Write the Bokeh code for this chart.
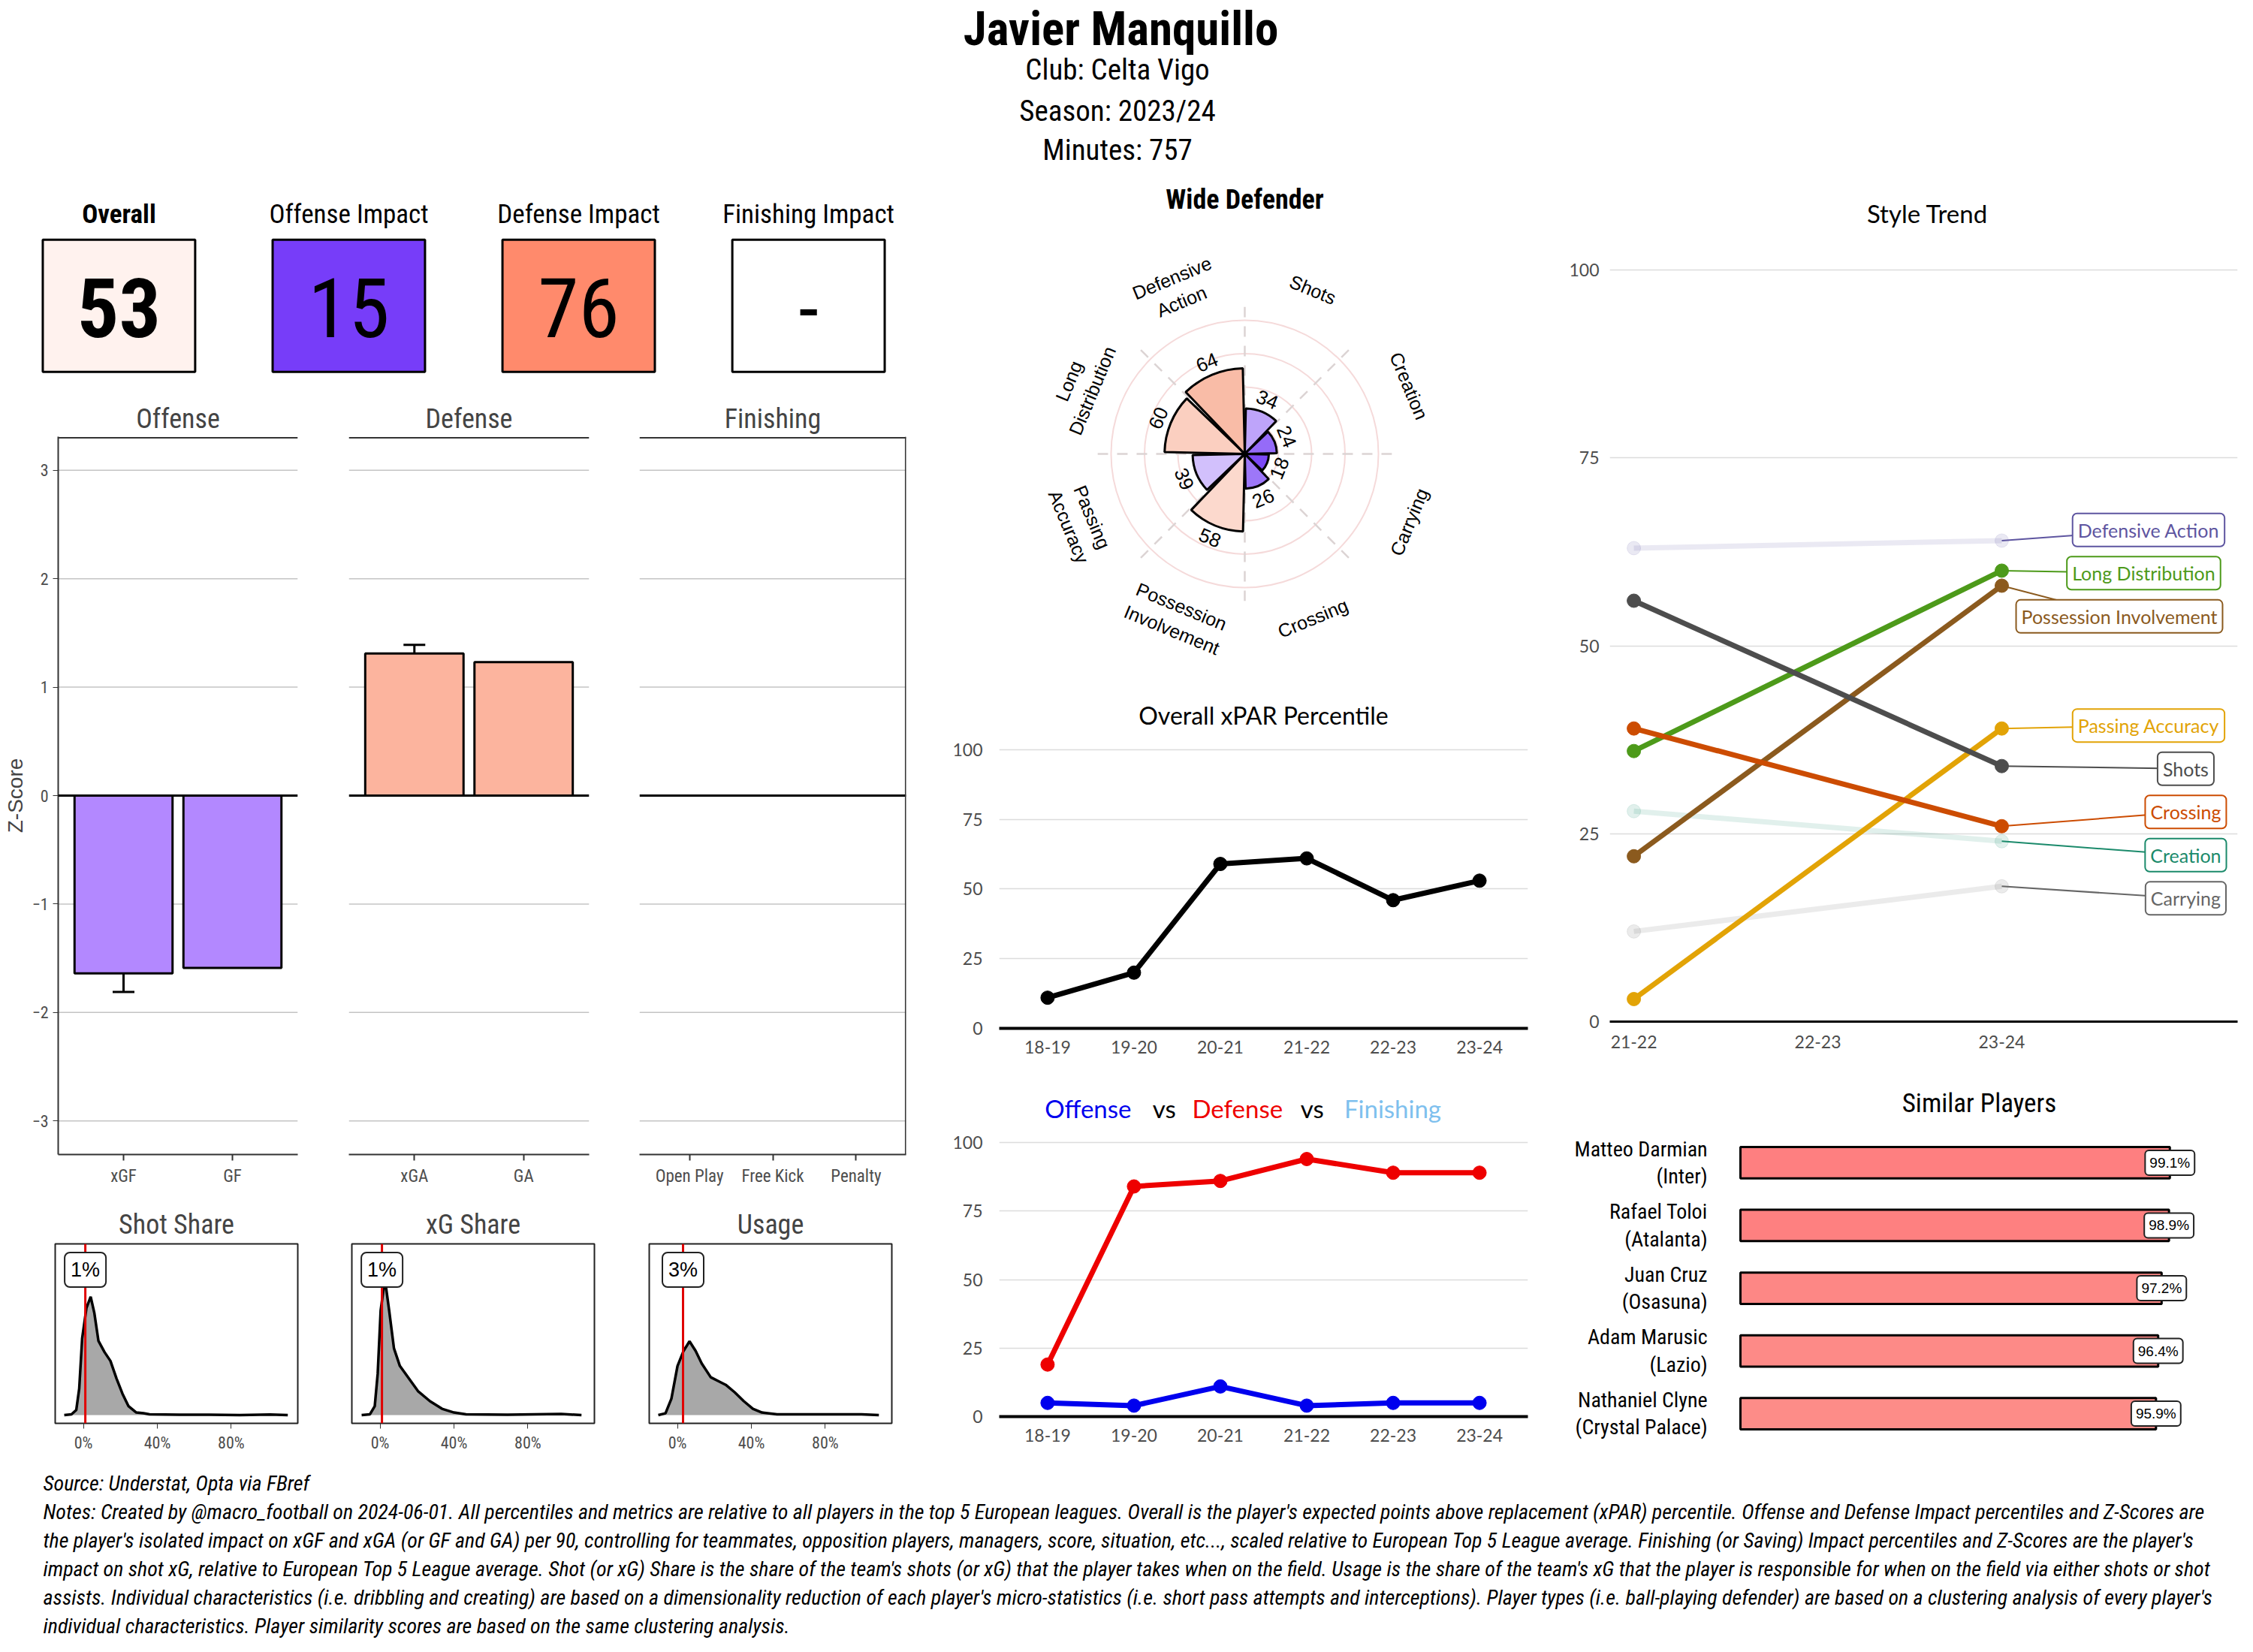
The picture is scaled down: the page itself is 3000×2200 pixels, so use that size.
import math
from bokeh.plotting import figure
from bokeh.layouts import row, column
from bokeh.models import Range1d, FactorRange, FixedTicker, Span, Whisker, TeeHead, ColumnDataSource, NumeralTickFormatter
from bokeh.core.properties import value
from bokeh.embed import file_html
from bokeh.resources import INLINE

# ---------------- data ----------------
player_name = "Javier Manquillo"
club_name = "Celta Vigo"
season_label = "2023/24"
minutes_played = 757

kpi_labels = ["Overall", "Offense Impact", "Defense Impact", "Finishing Impact"]
kpi_values = [53, 15, 76, None]

offense_cats = ["xGF", "GF"]
offense_z = [-1.64, -1.59]
offense_err_cat = ["xGF"]
offense_err_low = [-1.81]
offense_err_high = [-1.47]

defense_cats = ["xGA", "GA"]
defense_z = [1.31, 1.23]
defense_err_cat = ["xGA"]
defense_err_low = [1.24]
defense_err_high = [1.39]

finishing_cats = ["Open Play", "Free Kick", "Penalty"]
finishing_z = [0.0, 0.0, 0.0]

z_ticks = [-3, -2, -1, 0, 1, 2, 3]

share_ticks = [0.0, 0.4, 0.8]
shot_share_x = [-0.104, -0.065, -0.039, -0.023, -0.007, 0.016, 0.039, 0.059, 0.081, 0.114,
                0.146, 0.179, 0.211, 0.244, 0.286, 0.325, 0.358, 0.52, 0.68, 0.846, 1.01, 1.106]
shot_share_y = [0.0, 0.03, 0.2, 1.05, 3.05, 4.25, 4.7, 4.05, 2.95, 2.5,
                2.15, 1.45, 0.85, 0.35, 0.1, 0.07, 0.03, 0.01, 0.01, 0.0, 0.02, 0.0]
xg_share_x = [-0.10, -0.055, -0.029, -0.013, 0.003, 0.026, 0.049, 0.075, 0.107, 0.156,
              0.205, 0.27, 0.335, 0.40, 0.465, 0.69, 0.98, 1.09]
xg_share_y = [0.0, 0.03, 0.35, 1.65, 4.15, 5.4, 4.15, 2.65, 1.95, 1.45,
              0.95, 0.55, 0.25, 0.1, 0.03, 0.01, 0.04, 0.0]
usage_x = [-0.104, -0.065, -0.033, 0.0, 0.033, 0.065, 0.098, 0.131, 0.18, 0.229,
           0.261, 0.31, 0.359, 0.408, 0.457, 0.539, 0.70, 0.996, 1.09]
usage_y = [0.0, 0.07, 0.65, 1.95, 2.55, 2.93, 2.55, 2.05, 1.5, 1.32,
           1.2, 0.9, 0.55, 0.25, 0.1, 0.03, 0.03, 0.03, 0.0]
player_shot_share = 0.01
player_xg_share = 0.01
player_usage = 0.03

radar_cats = ["Shots", "Creation", "Carrying", "Crossing", "Possession\nInvolvement",
              "Passing\nAccuracy", "Long\nDistribution", "Defensive\nAction"]
radar_vals = [34, 24, 18, 26, 58, 39, 60, 64]
radar_rings = [25, 50, 75, 100]

seasons = ["18-19", "19-20", "20-21", "21-22", "22-23", "23-24"]
xpar_pct = [11, 20, 59, 61, 46, 53]
offense_pct = [5, 4, 11, 4, 5, 5]
defense_pct = [19, 84, 86, 94, 89, 89]
pct_ticks = [0, 25, 50, 75, 100]

trend_seasons = ["21-22", "22-23", "23-24"]
trend_names = ["Defensive Action", "Long Distribution", "Possession Involvement", "Passing Accuracy",
               "Shots", "Crossing", "Creation", "Carrying"]
trend_2122 = [63, 36, 22, 3, 56, 39, 28, 12]
trend_2324 = [64, 60, 58, 39, 34, 26, 24, 18]
trend_colors = ["#5e55a0", "#4d9a1a", "#8b5a1e", "#e2a306", "#4d4d4d", "#cc4c02", "#1b8a6b", "#666666"]

similar_names = ["Matteo Darmian", "Rafael Toloi", "Juan Cruz", "Adam Marusic", "Nathaniel Clyne"]
similar_clubs = ["Inter", "Atalanta", "Osasuna", "Lazio", "Crystal Palace"]
similar_pct = [99.1, 98.9, 97.2, 96.4, 95.9]

source_note = "Source: Understat, Opta via FBref"
notes_lines = [
    "Notes: Created by @macro_football on 2024-06-01. All percentiles and metrics are relative to all players in the top 5 European leagues. Overall is the player's expected points above replacement (xPAR) percentile. Offense and Defense Impact percentiles and Z-Scores are",
    "the player's isolated impact on xGF and xGA (or GF and GA) per 90, controlling for teammates, opposition players, managers, score, situation, etc..., scaled relative to European Top 5 League average. Finishing (or Saving) Impact percentiles and Z-Scores are the player's",
    "impact on shot xG, relative to European Top 5 League average. Shot (or xG) Share is the share of the team's shots (or xG) that the player takes when on the field. Usage is the share of the team's xG that the player is responsible for when on the field via either shots or shot",
    "assists. Individual characteristics (i.e. dribbling and creating) are based on a dimensionality reduction of each player's micro-statistics (i.e. short pass attempts and interceptions). Player types (i.e. ball-playing defender) are based on a clustering analysis of every player's",
    "individual characteristics. Player similarity scores are based on the same clustering analysis.",
]

# ---------------- style ----------------
COND = "'Roboto Condensed', 'Liberation Sans Narrow', 'DejaVu Sans Condensed', Roboto"
GEO = "Lato"
ARIAL = "'Liberation Sans', Arial"
GREY = "#4d4d4d"


def hex2rgb(h):
    h = h.lstrip("#")
    return tuple(int(h[i:i + 2], 16) for i in (0, 2, 4))


def mix(c1, c2, t):
    a, b = hex2rgb(c1), hex2rgb(c2)
    r = [max(0, min(255, round(a[i] + (b[i] - a[i]) * t))) for i in range(3)]
    return "#%02x%02x%02x" % tuple(r)


def div_color(v, lo="#773df9", hi="#ff8a6c"):
    if v <= 50:
        return mix("#ffffff", lo, min(1.15, (50 - v) / 35.0))
    return mix("#ffffff", hi, min(1.3, (v - 50) / 26.0))


def blank(w, h, xr, yr):
    p = figure(width=w, height=h, x_range=xr, y_range=yr, output_backend="svg", toolbar_location=None,
               x_axis_location=None, y_axis_location=None, min_border=0)
    p.grid.visible = False
    p.outline_line_color = None
    return p


# ---------------- header ----------------
HH = 235
hdr = blank(2984, HH, Range1d(0, 2984), Range1d(0, HH))
hdr.text(x=[1492], y=[HH - 38], text=[player_name], text_font=value(COND), text_font_size="63px",
         text_font_style="bold", text_align="center", text_baseline="middle")
hdr.text(x=[1492] * 3, y=[HH - 92, HH - 147, HH - 199],
         text=[f"Club:  {club_name}", f"Season:  {season_label}", f"Minutes:  {minutes_played}"],
         text_font=value(COND), text_font_size="39px", text_align="center", text_baseline="middle")

# ---------------- KPI boxes ----------------
kpi = blank(1234, 277, FactorRange(*kpi_labels, range_padding=0.016, range_padding_units="absolute"),
            Range1d(0, 1))
kpi_fill = [div_color(v) if v is not None else "#ffffff" for v in kpi_values]
kpi_text = [str(v) if v is not None else "-" for v in kpi_values]
kpi.rect(x=kpi_labels, y=0.38, width=0.663, height=0.635, fill_color=kpi_fill,
         line_color="black", line_width=3)
kpi.text(x=kpi_labels[:1], y=0.82, text=kpi_labels[:1], text_font=value(COND), text_font_size="35px",
         text_font_style="bold", text_align="center", text_baseline="middle")
kpi.text(x=kpi_labels[1:], y=0.82, text=kpi_labels[1:], text_font=value(COND), text_font_size="35px",
         text_align="center", text_baseline="middle")
kpi.text(x=kpi_labels[:1], y=0.37, text=kpi_text[:1], text_font=value(COND), text_font_size="110px",
         text_font_style="bold", text_align="center", text_baseline="middle")
kpi.text(x=kpi_labels[1:], y=0.37, text=kpi_text[1:], text_font=value(COND), text_font_size="110px",
         text_align="center", text_baseline="middle")


# ---------------- Z-score facets ----------------
def zpanel(title, cats, vals, fill, width, bl, br, show_y, right_line, err=None):
    p = figure(width=width, height=1071,
               x_range=FactorRange(*cats, range_padding=0.1, range_padding_units="absolute"),
               y_range=Range1d(-3.31, 3.31), output_backend="svg", toolbar_location=None,
               min_border_left=bl, min_border_right=br, min_border_top=69, min_border_bottom=46,
               title=title, y_axis_location="left" if show_y else None)
    p.title.align = "center"
    p.title.text_font = COND
    p.title.text_font_size = "36px"
    p.title.text_font_style = "normal"
    p.title.standoff = 6
    p.grid.visible = False
    p.outline_line_color = None
    for t in z_ticks:
        if t != 0:
            p.add_layout(Span(location=t, dimension="width", line_color="#c4c4c4", line_width=1.5,
                              level="underlay"))
    p.vbar(x=cats, top=vals, bottom=0, width=0.9, fill_color=fill, line_color="black", line_width=3)
    p.add_layout(Span(location=0, dimension="width", line_color="black", line_width=3))
    p.add_layout(Span(location=3.3, dimension="width", line_color="#333333", line_width=2))
    if right_line:
        p.add_layout(Span(location=len(cats) + 0.095, dimension="height", line_color="#333333", line_width=2))
    if err is not None:
        src = ColumnDataSource(dict(x=err[0], lo=err[1], hi=err[2]))
        p.add_layout(Whisker(base="x", lower="lo", upper="hi", source=src, line_width=3, line_color="black",
                             upper_head=TeeHead(size=29, line_width=3, line_color="black"),
                             lower_head=TeeHead(size=29, line_width=3, line_color="black")))
    ax = p.xaxis[0]
    ax.axis_line_color = "#333333"
    ax.axis_line_width = 2
    ax.major_tick_line_color = "#333333"
    ax.major_tick_line_width = 2
    ax.major_tick_in = 0
    ax.major_tick_out = 8
    ax.major_label_text_font = COND
    ax.major_label_text_font_size = "23px"
    ax.major_label_text_color = GREY
    ax.major_label_standoff = 7
    if show_y:
        ay = p.yaxis[0]
        ay.ticker = FixedTicker(ticks=z_ticks)
        ay.minor_tick_line_color = None
        ay.axis_line_color = "#333333"
        ay.axis_line_width = 2
        ay.major_tick_line_color = "#333333"
        ay.major_tick_in = 0
        ay.major_tick_out = 7
        ay.major_label_text_font = COND
        ay.major_label_text_font_size = "22px"
        ay.major_label_text_color = GREY
        ay.major_label_standoff = 6
        ay.axis_label = "Z-Score"
        ay.axis_label_text_font = ARIAL
        ay.axis_label_text_font_style = "normal"
        ay.axis_label_text_font_size = "28px"
        ay.axis_label_standoff = 4
    return p


z1 = zpanel("Offense", offense_cats, offense_z, "#b388ff", 430, 77, 34, True, False,
            (offense_err_cat, offense_err_low, offense_err_high))
z2 = zpanel("Defense", defense_cats, defense_z, "#fcb49e", 388, 34, 34, False, False,
            (defense_err_cat, defense_err_low, defense_err_high))
z3 = zpanel("Finishing", finishing_cats, finishing_z, "#bdbdbd", 416, 33, 28, False, True)


# ---------------- density panels ----------------
def dens(title, xs, ys, pv, width, bl, br):
    p = figure(width=width, height=373, x_range=Range1d(-0.153, 1.16), y_range=Range1d(-0.33, 6.8),
               output_backend="svg", toolbar_location=None, y_axis_location=None,
               min_border_left=bl, min_border_right=br, min_border_top=73, min_border_bottom=61, title=title)
    p.title.align = "center"
    p.title.text_font = COND
    p.title.text_font_size = "36px"
    p.title.text_font_style = "normal"
    p.title.standoff = 9
    p.grid.visible = False
    p.outline_line_color = "#222222"
    p.outline_line_width = 2
    p.varea(x=xs, y1=0, y2=ys, fill_color="#a8a8a8")
    p.line(x=xs, y=ys, line_color="black", line_width=3.5)
    p.segment(x0=[pv], y0=[-0.33], x1=[pv], y1=[6.8], line_color="#e00000", line_width=3)
    p.text(x=[pv], y=[5.77], text=[f"{round(pv * 100)}%"], text_font=value(ARIAL), text_font_size="27px",
           text_align="center", text_baseline="middle", background_fill_color="white",
           border_line_color="#222222", border_line_width=2, padding=8, border_radius=7)
    ax = p.xaxis[0]
    ax.ticker = FixedTicker(ticks=share_ticks)
    ax.formatter = NumeralTickFormatter(format="0%")
    ax.minor_tick_line_color = None
    ax.axis_line_color = None
    ax.major_tick_line_color = "#333333"
    ax.major_tick_in = 0
    ax.major_tick_out = 7
    ax.major_label_text_font = COND
    ax.major_label_text_font_size = "22px"
    ax.major_label_text_color = GREY
    ax.major_label_standoff = 6
    return p


d1 = dens("Shot Share", shot_share_x, shot_share_y, player_shot_share, 430, 73, 34)
d2 = dens("xG Share", xg_share_x, xg_share_y, player_xg_share, 388, 38, 27)
d3 = dens("Usage", usage_x, usage_y, player_usage, 416, 46, 47)

# ---------------- radar ----------------
rad = blank(823, 679, Range1d(-237.6, 224.7), Range1d(-174.2, 207.3))
rad.circle(x=[0] * len(radar_rings), y=[0] * len(radar_rings), radius=radar_rings, fill_color=None,
           line_color="#f5dada", line_width=2)
n = len(radar_cats)
step = 360.0 / n
sx0, sy0, sx1, sy1 = [], [], [], []
for k in range(n):
    a = math.radians(k * step)
    sx0.append(0); sy0.append(0)
    sx1.append(110 * math.sin(a)); sy1.append(110 * math.cos(a))
rad.segment(x0=sx0, y0=sy0, x1=sx1, y1=sy1, line_color="#dcd4d4", line_width=2.5, line_dash="14 12")
gap = 1.3
starts, ends, cols = [], [], []
vx, vy, va, lx, ly = [], [], [], [], []
for i, v in enumerate(radar_vals):
    th1 = i * step + gap
    th2 = (i + 1) * step - gap
    starts.append(math.radians(90 - th2))
    ends.append(math.radians(90 - th1))
    cols.append(div_color(v, lo="#7038f5", hi="#f4825c"))
    thc = (i + 0.5) * step
    ang = -thc
    if 90 < thc < 270:
        ang += 180
    va.append(math.radians(ang))
    r = v + 10
    vx.append(r * math.sin(math.radians(thc))); vy.append(r * math.cos(math.radians(thc)))
    lx.append(133 * math.sin(math.radians(thc))); ly.append(133 * math.cos(math.radians(thc)))
rad.wedge(x=[0] * n, y=[0] * n, radius=radar_vals, start_angle=starts, end_angle=ends,
          fill_color=cols, line_color="black", line_width=3)
rad.text(x=vx, y=vy, text=[str(v) for v in radar_vals], angle=va, text_font=value(ARIAL),
         text_font_size="26px", text_align="center", text_baseline="middle")
rad.text(x=lx, y=ly, text=radar_cats, angle=va, text_font=value(ARIAL), text_font_size="25px",
         text_align="center", text_baseline="middle")
rad.text(x=[0], y=[190], text=["Wide Defender"], text_font=value(COND), text_font_size="36px",
         text_font_style="bold", text_align="center", text_baseline="middle")


# ---------------- line charts ----------------
def linefig(height, top, bottom):
    p = figure(width=823, height=height,
               x_range=FactorRange(*seasons, range_padding=0.06, range_padding_units="absolute"),
               y_range=Range1d(0, top), output_backend="svg", toolbar_location=None,
               min_border_left=96, min_border_right=23, min_border_top=0, min_border_bottom=bottom)
    p.outline_line_color = None
    p.xgrid.visible = False
    p.ygrid.ticker = FixedTicker(ticks=pct_ticks)
    p.ygrid.grid_line_color = "#dcdcdc"
    p.ygrid.grid_line_width = 1.5
    ay = p.yaxis[0]
    ay.ticker = FixedTicker(ticks=pct_ticks)
    ay.axis_line_color = None
    ay.major_tick_line_color = None
    ay.minor_tick_line_color = None
    ay.major_label_text_font = GEO
    ay.major_label_text_font_size = "23px"
    ay.major_label_text_color = GREY
    ay.major_label_standoff = 16
    ax = p.xaxis[0]
    ax.axis_line_color = "black"
    ax.axis_line_width = 4
    ax.major_tick_line_color = None
    ax.major_label_text_font = GEO
    ax.major_label_text_font_size = "23px"
    ax.major_label_text_color = GREY
    ax.major_label_standoff = 10
    return p


xp = linefig(517, 122.6, 62)
xp.line(x=seasons, y=xpar_pct, line_color="black", line_width=7)
xp.scatter(x=seasons, y=xpar_pct, size=18, color="black")
xp.text(x=[3.0], y=[112.4], text=["Overall xPAR Percentile"], text_font=value(GEO), text_font_size="32px",
        text_align="center", text_baseline="middle")

ovd = linefig(526, 124.7, 71)
ovd.line(x=seasons, y=defense_pct, line_color="#ee0000", line_width=7)
ovd.scatter(x=seasons, y=defense_pct, size=18, color="#ee0000")
ovd.line(x=seasons, y=offense_pct, line_color="#0000ee", line_width=7)
ovd.scatter(x=seasons, y=offense_pct, size=18, color="#0000ee")
ovd.text(x=[0.969, 1.850, 2.698, 3.563, 4.495], y=[112.6] * 5,
         text=["Offense", "vs", "Defense", "vs", "Finishing"],
         text_color=["#0000ee", "black", "#ee0000", "black", "#7ec0ee"],
         text_font=value(GEO), text_font_size="33px", text_align="center", text_baseline="middle")

# ---------------- style trend ----------------
st = figure(width=927, height=1196, x_range=Range1d(-0.131, 3.282), y_range=Range1d(0, 112.4),
            output_backend="svg", toolbar_location=None,
            min_border_left=86, min_border_right=5, min_border_top=0, min_border_bottom=71)
st.outline_line_color = None
st.xgrid.visible = False
st.ygrid.ticker = FixedTicker(ticks=pct_ticks)
st.ygrid.grid_line_color = "#dcdcdc"
st.ygrid.grid_line_width = 1.5
ay = st.yaxis[0]
ay.ticker = FixedTicker(ticks=pct_ticks)
ay.axis_line_color = None
ay.major_tick_line_color = None
ay.minor_tick_line_color = None
ay.major_label_text_font = GEO
ay.major_label_text_font_size = "23px"
ay.major_label_text_color = GREY
ay.major_label_standoff = 8
ax = st.xaxis[0]
ax.ticker = FixedTicker(ticks=list(range(len(trend_seasons))))
ax.major_label_overrides = {i: s for i, s in enumerate(trend_seasons)}
ax.axis_line_color = "black"
ax.axis_line_width = 3
ax.major_tick_line_color = None
ax.minor_tick_line_color = None
ax.major_label_text_font = GEO
ax.major_label_text_font_size = "23px"
ax.major_label_text_color = GREY
ax.major_label_standoff = 12

x_a = trend_seasons.index("21-22")
x_b = trend_seasons.index("23-24")
faded = [abs(b - a) < 10 for a, b in zip(trend_2122, trend_2324)]
order = sorted(range(len(trend_names)), key=lambda i: (not faded[i]))
for i in order:
    alpha = 0.13 if faded[i] else 1.0
    st.line(x=[x_a, x_b], y=[trend_2122[i], trend_2324[i]], line_color=trend_colors[i], line_width=7,
            line_alpha=alpha)
    st.scatter(x=[x_a, x_b], y=[trend_2122[i], trend_2324[i]], size=18, color=trend_colors[i], alpha=alpha)

# repel label positions
gap_u = 5.75
idx = sorted(range(len(trend_names)), key=lambda i: -trend_2324[i])
groups = [[i] for i in idx]


def gpos(g):
    c = sum(trend_2324[i] for i in g) / len(g)
    return [c + gap_u * ((len(g) - 1) / 2.0 - j) for j in range(len(g))]


changed = True
while changed:
    changed = False
    for k in range(len(groups) - 1):
        if gpos(groups[k])[-1] - gpos(groups[k + 1])[0] < gap_u:
            groups[k] = groups[k] + groups[k + 1]
            del groups[k + 1]
            changed = True
            break
lab_y = {}
for g in groups:
    for i, yv in zip(g, gpos(g)):
        lab_y[i] = yv - (1.0 if len(g) <= 3 else 0.3)

x_lim = 3.257
for i, name in enumerate(trend_names):
    half = (len(name) * 0.053 + 0.07) / 2.0
    cx = 3.0
    if cx + half > x_lim:
        cx = x_lim - half
    st.segment(x0=[x_b], y0=[trend_2324[i]], x1=[cx], y1=[lab_y[i]], line_color=trend_colors[i], line_width=2)
    st.text(x=[cx], y=[lab_y[i]], text=[name], text_color=trend_colors[i], text_font=value(GEO),
            text_font_size="25px", text_align="center", text_baseline="middle",
            background_fill_color="white", border_line_color=trend_colors[i], border_line_width=2,
            padding=7, border_radius=6)
st.text(x=[1.596], y=[107.6], text=["Style Trend"], text_font=value(GEO), text_font_size="33px",
        text_align="center", text_baseline="middle")

# ---------------- similar players ----------------
sim = blank(927, 526, Range1d(-45.06, 115.6), Range1d(-0.897, 5.40))
ypos = [len(similar_names) - 1 - i for i in range(len(similar_names))]
sim_cols = [mix("#fe7f80", "#fd8c88", (99.1 - v) / 3.2) for v in similar_pct]
sim.hbar(y=ypos, left=0, right=similar_pct, height=0.5, fill_color=sim_cols, line_color="black", line_width=3)
sim.text(x=[-7.6] * len(ypos), y=ypos, text=[f"{nm}\n({cl})" for nm, cl in zip(similar_names, similar_clubs)],
         text_font=value(COND), text_font_size="28px", text_align="right", text_baseline="middle",
         text_line_height=1.1)
sim.text(x=similar_pct, y=ypos, text=[f"{v}%" for v in similar_pct], text_font=value(ARIAL),
         text_font_size="19px", text_align="center", text_baseline="middle", background_fill_color="white",
         border_line_color="#222222", border_line_width=2, padding=6, border_radius=5)
sim.text(x=[55.1], y=[4.945], text=["Similar Players"], text_font=value(COND), text_font_size="35px",
         text_align="center", text_baseline="middle")

# ---------------- footer ----------------
FH = 227
foot = blank(2984, FH, Range1d(0, 2984), Range1d(0, FH))
foot_lines = [source_note] + notes_lines
foot.text(x=[57] * len(foot_lines), y=[FH - 18 - 38 * k for k in range(len(foot_lines))], text=foot_lines,
          text_font=value(COND), text_font_size="28px", text_font_style="italic",
          text_align="left", text_baseline="middle")

left = column(kpi, row(z1, z2, z3), row(d1, d2, d3))
mid = column(row(rad), xp, ovd)
right = column(st, row(sim))
page = column(hdr, row(left, mid, right), foot)

open("out.html", "w").write(file_html(page, INLINE))
